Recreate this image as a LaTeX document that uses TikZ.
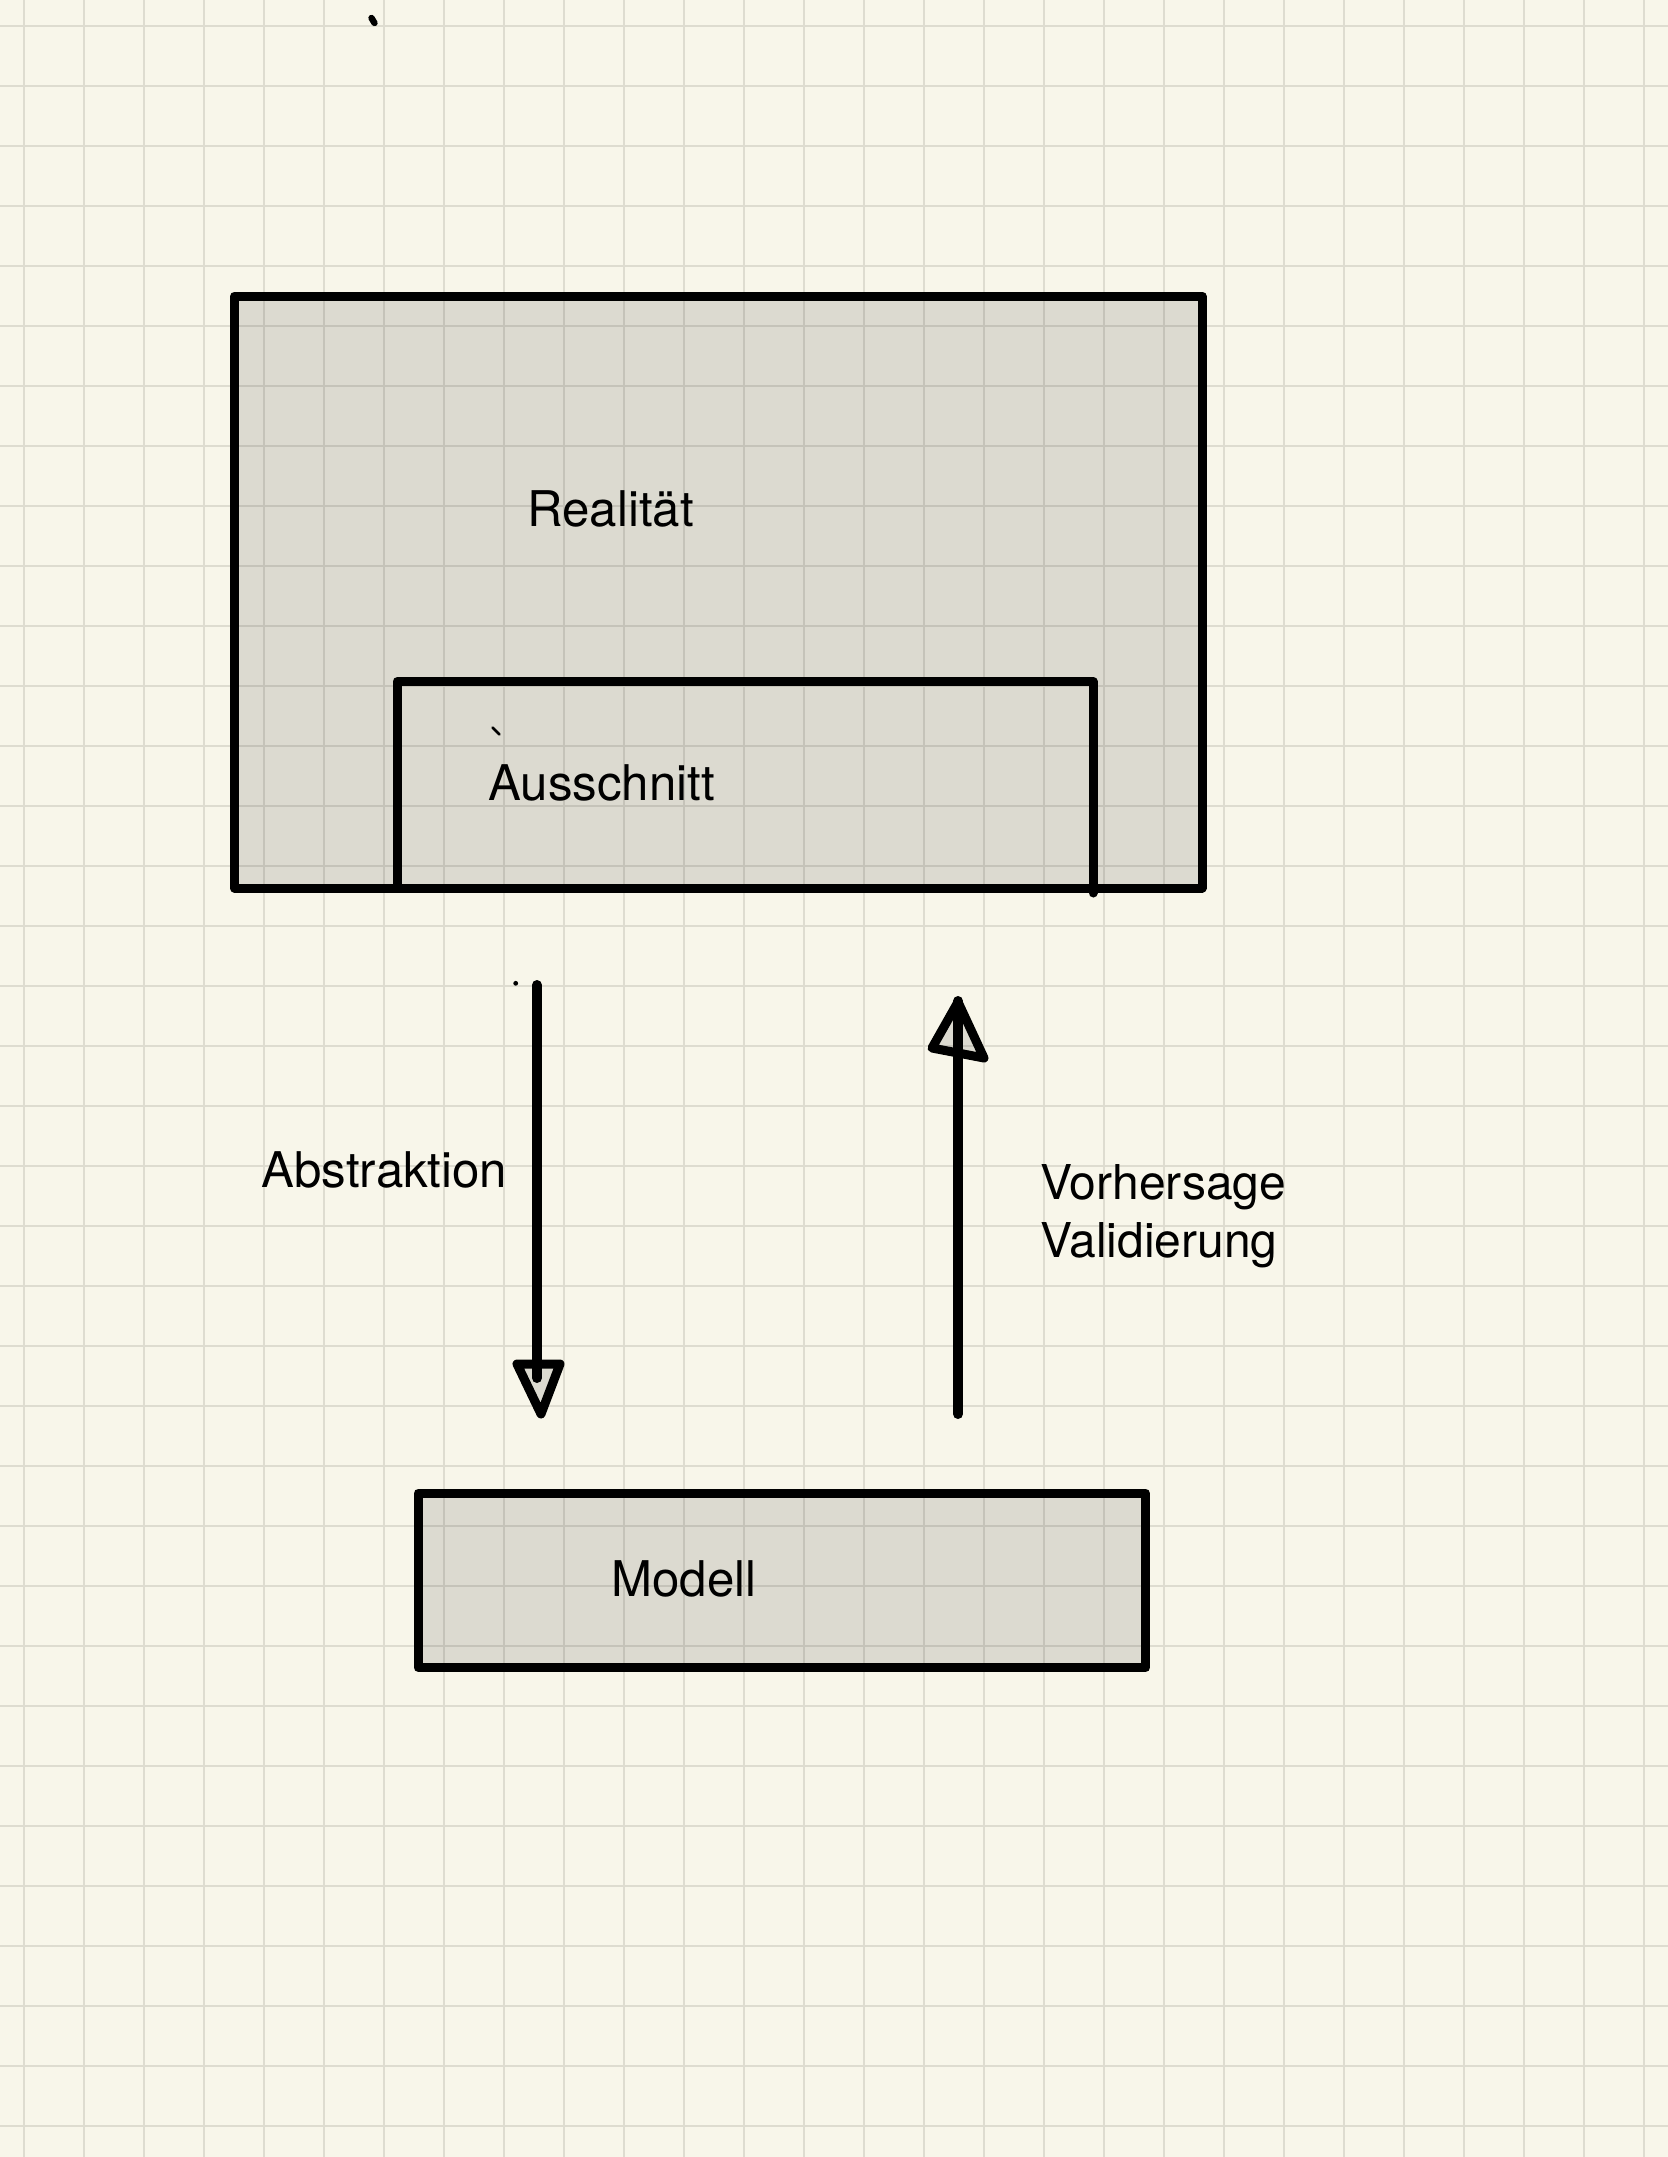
\documentclass[tikz,border=0pt]{standalone}
\usepackage{fontspec}
\setmainfont{TeX Gyre Heros}
\definecolor{paper}{RGB}{248,246,234}
\definecolor{gridc}{RGB}{222,220,208}
\tikzset{
  gridline/.style={draw=gridc, line width=1pt},
  boxline/.style={draw=black, line width=4.5pt, line join=round, line cap=round},
  boxfill/.style={fill=black, fill opacity=0.11},
  shaft/.style={draw=black, line width=5pt, line cap=round},
  lbl/.style={inner sep=0pt, anchor=base west, font=\fontsize{24.6}{29.5}\selectfont},
  lblnarrow/.style={lbl, font=\fontsize{24}{29.5}\selectfont},
  penmark/.style={draw=black, line cap=round}
}
\begin{document}
\begin{tikzpicture}[x=0.5pt,y=-0.5pt]
\useasboundingbox (0,0) rectangle (1668,2157);
\fill[paper] (0,0) rectangle (1668,2157);
% grid
\foreach \i in {0,...,27} \draw[gridline] (24+60*\i,0) -- (24+60*\i,2157);
\foreach \j in {0,...,35} \draw[gridline] (0,26+60*\j) -- (1668,26+60*\j);

% coordinates of boxes
\coordinate (realTL) at (234.5,296);
\coordinate (realBR) at (1202,888);
\coordinate (ausBL) at (397,888);
\coordinate (ausTL) at (397,681.5);
\coordinate (ausTR) at (1093,681.5);
\coordinate (ausBR) at (1093,893);
\coordinate (modTL) at (418,1493);
\coordinate (modBR) at (1145.5,1667.5);

% Realitaet box
\fill[boxfill] (realTL) rectangle (realBR);
\draw[boxline] (realTL) rectangle (realBR);
% Ausschnitt box (open at bottom)
\draw[boxline] (ausBL) -- (ausTL) -- (ausTR) -- (ausBR);
% Modell box
\fill[boxfill] (modTL) rectangle (modBR);
\draw[boxline] (modTL) rectangle (modBR);

% labels
\node[lbl] (realitaet) at (527,526.7) {Realität};
\node[lbl] (ausschnitt) at (488,800) {Ausschnitt};
\node[lbl] (modell) at (611,1596.7) {Modell};
\node[lbl] (abstraktion) at (261,1187) {Abstraktion};
\node[lblnarrow] (vorhersage) at (1040,1199) {Vorhersage};
\node[lblnarrow] (validierung) at (1040,1257.7) {Validierung};

% down arrow (Abstraktion)
\coordinate (dStart) at (537,985);
\coordinate (dEnd) at (537,1378);
\coordinate (dL) at (517,1364);
\coordinate (dR) at (560,1364);
\coordinate (dTip) at (541,1414);
\fill[boxfill] (dL) -- (dR) -- (dTip) -- cycle;
\draw[shaft] (dStart) -- (dEnd);
\draw[boxline] (dL) -- (dR) -- (dTip) -- cycle;

% up arrow (Vorhersage / Validierung)
\coordinate (uStart) at (958,1414);
\coordinate (uEnd) at (958,1001);
\coordinate (uL) at (932,1048);
\coordinate (uR) at (984,1058);
\coordinate (uTip) at (958,1002);
\fill[boxfill] (uL) -- (uR) -- (uTip) -- cycle;
\draw[shaft] (uStart) -- (uEnd);
\draw[boxline] (uL) -- (uR) -- (uTip) -- cycle;

% stray pen marks
\coordinate (m1a) at (371.5,18);
\coordinate (m1b) at (374.5,23);
\draw[penmark, line width=3.2pt] (m1a) -- (m1b);
\coordinate (m2a) at (492.5,727.5);
\coordinate (m2b) at (499.5,734.5);
\draw[penmark, line width=1.3pt] (m2a) -- (m2b);
\coordinate (m3) at (515.7,983.3);
\fill[black] (m3) circle (1.2pt);
\end{tikzpicture}
\end{document}
